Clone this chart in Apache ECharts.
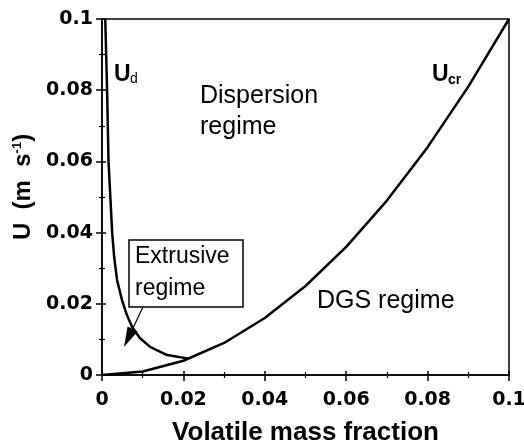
<!DOCTYPE html>
<html><head><meta charset="utf-8">
<script src="https://cdn.jsdelivr.net/npm/echarts@6/dist/echarts.min.js"></script>
<style>html,body{margin:0;padding:0;background:#fff}#c{width:524px;height:444px}</style>
</head><body><div id="c"></div>
<script>
// U_cr curve (critical velocity)
const crX = [0, 0.01, 0.02, 0.03, 0.04, 0.05, 0.06, 0.07, 0.08, 0.09, 0.1];
const crU = [0, 0.001, 0.004, 0.009, 0.016, 0.025, 0.036, 0.049, 0.064, 0.081, 0.1];
// U_d curve
const dX = [0.0008, 0.00125, 0.0016, 0.0025, 0.003, 0.0037, 0.0049, 0.0061, 0.0074, 0.0093, 0.0118, 0.016, 0.0213];
const dU = [0.1, 0.08, 0.06, 0.04, 0.033, 0.0267, 0.0211, 0.0169, 0.0135, 0.0104, 0.0079, 0.0056, 0.0046];
const xTickLabels = ['0', '0.02', '0.04', '0.06', '0.08', '0.1'];
const yTickLabels = ['0', '0.02', '0.04', '0.06', '0.08', '0.1'];

const tickFont = {fontFamily: 'DejaVu Sans', fontWeight: 'bold', fontSize: 19, color: '#000'};
function fmt(labels){ return v => labels[Math.round(v / 0.02)]; }

function mkAxis(isX, primary){
  const labels = isX ? xTickLabels : yTickLabels;
  const a = {
    type: 'value', min: 0, max: 0.1, interval: 0.02,
    position: isX ? 'bottom' : 'left',
    splitLine: {show: false},
    axisLine: {show: primary, onZero: false, lineStyle: {color: '#000', width: 1.5}},
    axisTick: {show: true, inside: !primary, length: primary ? 6 : 4, lineStyle: {color: '#000', width: 1.5}},
    minorTick: {show: true, splitNumber: 2, length: 3, lineStyle: {color: '#000', width: 1.2}},
    axisLabel: Object.assign({show: primary, margin: isX ? 16 : 9, formatter: fmt(labels), showMinLabel: true, showMaxLabel: true}, tickFont)
  };
  if (primary) {
    if (isX) {
      a.name = 'Volatile mass fraction';
      a.nameLocation = 'middle';
      a.nameGap = 45;
      a.nameTextStyle = {fontFamily: 'Liberation Sans', fontWeight: 'bold', fontSize: 26, color: '#000'};
    } else {
      a.name = '{b|U  (m  s}{s|-1}{b|)}';
      a.nameLocation = 'middle';
      a.nameGap = 66;
      a.nameRotate = 90;
      a.nameTextStyle = {
        padding: [0, 0, 0, 20],
        rich: {
          b: {fontFamily: 'Liberation Sans', fontWeight: 'bold', fontSize: 24, color: '#000'},
          s: {fontFamily: 'Liberation Sans', fontWeight: 'bold', fontSize: 13, color: '#000', verticalAlign: 'top', padding: [0, 0, 10, 0]}
        }
      };
    }
  }
  return a;
}

const chart = echarts.init(document.getElementById('c'), null, {renderer: 'canvas'});
const txt = (t, x, y, size, weight) => ({
  type: 'text', x: x, y: y, z: 100,
  style: {text: t, fontFamily: 'Liberation Sans', fontWeight: weight || 'normal', fontSize: size, fill: '#000', verticalAlign: 'middle', align: 'left'}
});
chart.setOption({
  animation: false,
  backgroundColor: '#fff',
  grid: {left: 102, right: 15, top: 19, bottom: 69, show: true, borderColor: '#000', borderWidth: 1.5, backgroundColor: 'transparent', outerBoundsMode: 'none', containLabel: false},
  xAxis: [mkAxis(true, true), mkAxis(true, false)],
  yAxis: [mkAxis(false, true), mkAxis(false, false)],
  series: [
    {type: 'line', name: 'Ucr', data: crX.map((x, i) => [x, crU[i]]), symbol: 'none', lineStyle: {color: '#000', width: 2.5}, clip: true},
    {type: 'line', name: 'Ud', data: dX.map((x, i) => [x, dU[i]]), symbol: 'none', lineStyle: {color: '#000', width: 2.5}, clip: true}
  ],
  graphic: [
    txt('U', 114, 75, 23, 'bold'),
    txt('d', 130, 79, 14, 'normal'),
    txt('U', 432, 75, 23, 'bold'),
    txt('cr', 448, 80, 14, 'bold'),
    txt('Dispersion', 200, 96, 25),
    txt('regime', 200, 127, 25),
    txt('DGS regime', 317, 301, 25),
    {type: 'rect', z: 90, shape: {x: 129, y: 240, width: 114, height: 67}, style: {fill: '#fff', stroke: '#000', lineWidth: 1.5}},
    txt('Extrusive', 135, 257, 23),
    txt('regime', 135, 289, 23),
    {type: 'line', z: 95, shape: {x1: 143, y1: 307, x2: 132, y2: 330}, style: {stroke: '#000', lineWidth: 1.2}},
    {type: 'polygon', z: 95, shape: {points: [[124, 347], [127.6, 326.6], [137.6, 331.4]]}, style: {fill: '#000'}}
  ]
});
</script></body></html>
